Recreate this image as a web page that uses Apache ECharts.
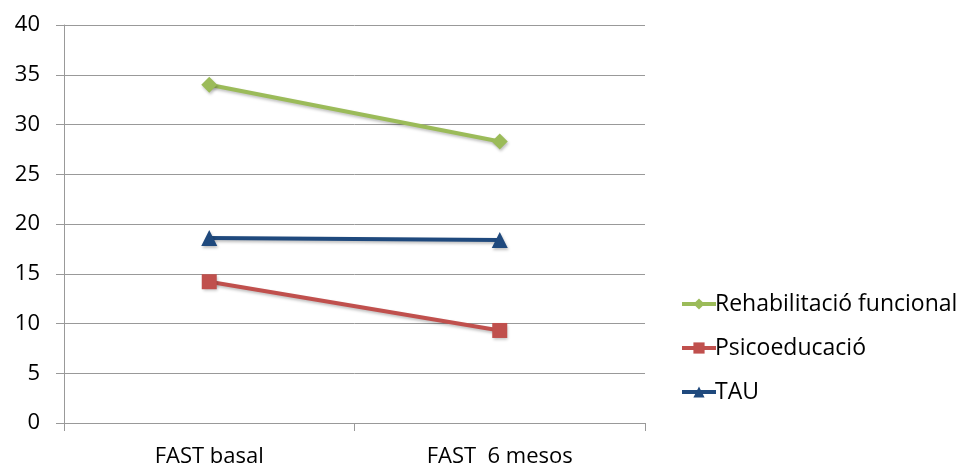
<!DOCTYPE html>
<html>
<head>
<meta charset="utf-8">
<script src="https://cdn.jsdelivr.net/npm/echarts@6/dist/echarts.min.js"></script>
<style>
  html, body { margin: 0; padding: 0; background: #fff; }
  #chart { width: 963px; height: 469px; }
</style>
</head>
<body>
<div id="chart"></div>
<script>
const categories = ['FAST basal', 'FAST  6 mesos']
const rehabValues = [34.0, 28.3]
const psicoValues = [14.2, 9.3]
const tauValues = [18.6, 18.4]
const seriesNames = ['Rehabilitació funcional', 'Psicoeducació', 'TAU']

const chart = echarts.init(document.getElementById('chart'))
const fontFamily = "'Open Sans', 'Liberation Sans', sans-serif"

function makeLine(name, data, color, symbol, size) {
  return {
    name: name,
    type: 'line',
    data: data,
    symbol: symbol,
    symbolSize: size,
    lineStyle: {
      color: color,
      width: 4,
      shadowColor: 'rgba(0,0,0,0.25)',
      shadowBlur: 3,
      shadowOffsetX: 1,
      shadowOffsetY: 2
    },
    itemStyle: {
      color: color,
      shadowColor: 'rgba(0,0,0,0.25)',
      shadowBlur: 3,
      shadowOffsetX: 1,
      shadowOffsetY: 2
    },
    z: 3
  }
}

chart.setOption({
  animation: false,
  grid: {
    left: 64,
    right: 318,
    top: 25,
    bottom: 46
  },
  legend: {
    orient: 'vertical',
    left: 675,
    top: 287,
    itemGap: 20,
    itemWidth: 34,
    itemHeight: 14,
    lineStyle: { width: 4 },
    textStyle: {
      color: '#000',
      fontSize: 23,
      lineHeight: 24,
      fontFamily: fontFamily,
      padding: [0, 0, 0, -6]
    },
    data: seriesNames
  },
  xAxis: {
    type: 'category',
    data: categories,
    boundaryGap: true,
    axisLine: { lineStyle: { color: '#999', width: 1 } },
    axisTick: { show: true, length: 8, lineStyle: { color: '#999' } },
    axisLabel: {
      color: '#000',
      fontSize: 22,
      fontFamily: fontFamily,
      margin: 23
    }
  },
  yAxis: {
    type: 'value',
    min: 0,
    max: 40,
    interval: 5,
    axisLine: { show: true, lineStyle: { color: '#999', width: 1 } },
    axisTick: { show: true, length: 8, lineStyle: { color: '#999' } },
    axisLabel: {
      color: '#000',
      fontSize: 22,
      fontFamily: fontFamily,
      margin: 24
    },
    splitLine: { show: true, lineStyle: { color: '#999', width: 1 } }
  },
  series: [
    makeLine(seriesNames[0], rehabValues, '#9BBB59', 'diamond', 16),
    makeLine(seriesNames[1], psicoValues, '#C0504D', 'rect', 15),
    makeLine(seriesNames[2], tauValues, '#1F497D', 'triangle', 16)
  ]
})
</script>
</body>
</html>
